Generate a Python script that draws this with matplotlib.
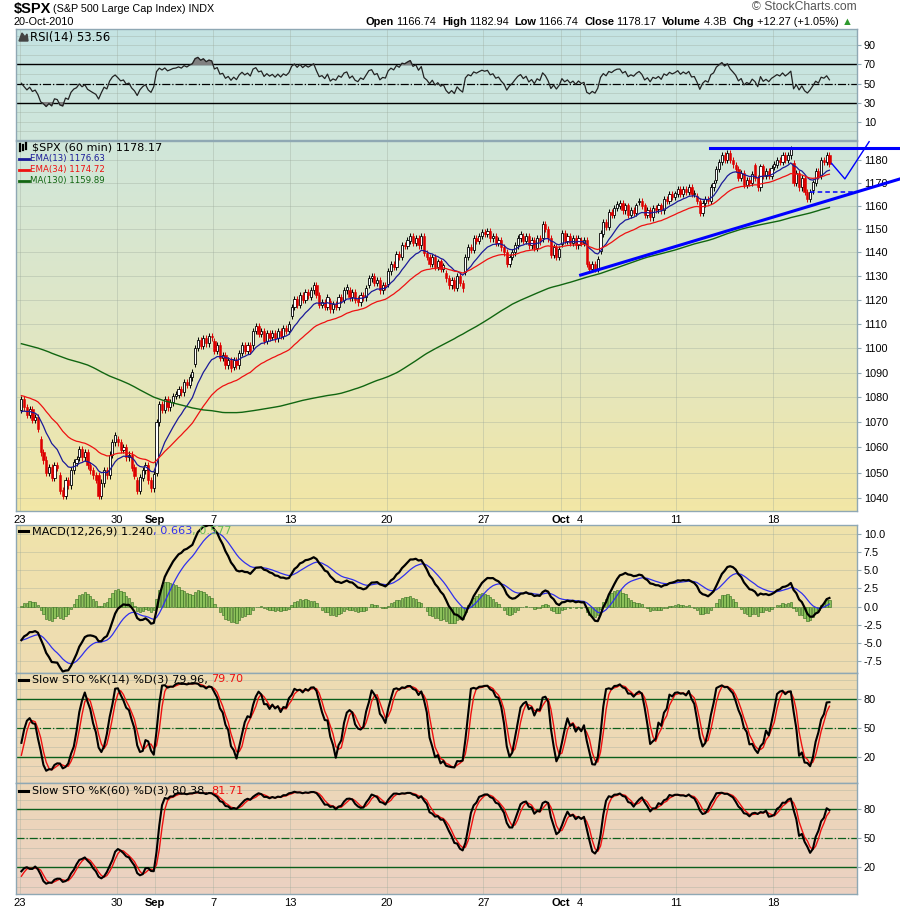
import numpy as np
import pandas as pd
import matplotlib.pyplot as plt

W, H = 900, 910

# hourly closes of the sessions before the visible window (Jul 26 - Aug 20), used to warm up the indicators
pre_closes = [
    1105, 1108, 1109, 1110, 1111, 1113, 1115,
    1119, 1117, 1113, 1111, 1112, 1114, 1113.8,
    1111, 1109, 1108, 1106, 1107, 1105, 1106,
    1113, 1110, 1104, 1097, 1094, 1098, 1101.5,
    1091, 1094, 1097, 1100, 1103, 1102, 1101.6,
    1115, 1119, 1121, 1123, 1124, 1126, 1125.9,
    1124, 1122, 1119, 1117, 1119, 1121, 1120.5,
    1122, 1124, 1125, 1126, 1127, 1128, 1127.2,
    1121, 1122, 1123, 1124, 1125, 1126, 1125.8,
    1113, 1112, 1116, 1117, 1118, 1120, 1121.6,
    1125, 1126, 1127, 1127, 1128, 1129, 1127.8,
    1118, 1116, 1117, 1120, 1125, 1120, 1121,
    1100, 1096, 1094, 1094, 1092, 1091, 1089.5,
    1079, 1080, 1082, 1083, 1084, 1086, 1083.6,
    1080, 1081, 1082, 1081, 1079, 1080, 1079.3,
    1072, 1074, 1076, 1077, 1078, 1079, 1079.4,
    1088, 1092, 1095, 1094, 1095, 1093, 1092.5,
    1092, 1090, 1094, 1096, 1095, 1098, 1094.2,
    1088, 1083, 1080, 1078, 1074, 1072, 1075.6,
    1070, 1068, 1066, 1065, 1068, 1070, 1071.7,
]

days = ['Aug 23', 'Aug 24', 'Aug 25', 'Aug 26', 'Aug 27', 'Aug 30', 'Aug 31',
        'Sep 1', 'Sep 2', 'Sep 3', 'Sep 7', 'Sep 8', 'Sep 9', 'Sep 10',
        'Sep 13', 'Sep 14', 'Sep 15', 'Sep 16', 'Sep 17', 'Sep 20', 'Sep 21',
        'Sep 22', 'Sep 23', 'Sep 24', 'Sep 27', 'Sep 28', 'Sep 29', 'Sep 30',
        'Oct 1', 'Oct 4', 'Oct 5', 'Oct 6', 'Oct 7', 'Oct 8', 'Oct 11',
        'Oct 12', 'Oct 13', 'Oct 14', 'Oct 15', 'Oct 18', 'Oct 19', 'Oct 20']

# open of the first hourly bar of each session
day_opens = [1075, 1063, 1049, 1056, 1049, 1063, 1047,
             1050, 1080.7, 1093.6, 1102.6, 1092.4, 1101.2, 1104.6,
             1113.4, 1121.2, 1119.4, 1123.9, 1126.4, 1126.6, 1142.8,
             1139.5, 1131.1, 1131.7, 1148.6, 1142.3, 1146.8, 1146,
             1143.5, 1145, 1140.7, 1159.8, 1161.6, 1158.4, 1165.3,
             1164.3, 1171.3, 1177.8, 1177.5, 1176.8, 1178.6, 1166.7]

# hourly closes, 7 bars per session
closes = [
    1079, 1076, 1073, 1075, 1071, 1072, 1067.4,
    1058, 1055, 1050, 1052, 1048, 1053, 1051.9,
    1043, 1041, 1047, 1045, 1051, 1054, 1055.3,
    1059, 1056, 1058, 1053, 1051, 1049, 1047.2,
    1041, 1046, 1051, 1049, 1057, 1062, 1064.6,
    1062, 1059, 1060, 1056, 1057, 1052, 1048.9,
    1043, 1048, 1051, 1053, 1047, 1044, 1049.3,
    1070, 1077, 1075, 1079, 1076, 1078, 1080.3,
    1081, 1083, 1082, 1086, 1085, 1088, 1090.1,
    1100, 1103, 1101, 1104, 1102, 1105, 1104.5,
    1099, 1101, 1096, 1097, 1093, 1095, 1091.8,
    1095, 1093, 1098, 1101, 1099, 1101, 1098.9,
    1107, 1109, 1106, 1107, 1103, 1106, 1104.2,
    1106, 1104, 1107, 1105, 1108, 1107, 1109.6,
    1117, 1120, 1118, 1122, 1120, 1123, 1121.9,
    1124, 1126, 1122, 1118, 1119, 1117, 1121.1,
    1116, 1118, 1117, 1121, 1120, 1124, 1125.1,
    1121, 1123, 1120, 1119, 1122, 1121, 1124.7,
    1129, 1130, 1127, 1128, 1124, 1126, 1125.6,
    1132, 1135, 1134, 1139, 1138, 1143, 1142.7,
    1145, 1147, 1144, 1146, 1143, 1147, 1139.8,
    1138, 1135, 1138, 1134, 1136, 1133, 1134.3,
    1129, 1126, 1128, 1125, 1130, 1127, 1124.8,
    1138, 1142, 1141, 1146, 1145, 1147, 1148.7,
    1148, 1149, 1146, 1147, 1144, 1145, 1142.2,
    1140, 1135, 1138, 1140, 1143, 1146, 1147.7,
    1145, 1147, 1143, 1145, 1142, 1146, 1144.7,
    1152, 1150, 1146, 1139, 1142, 1138, 1141.2,
    1148, 1145, 1147, 1144, 1146, 1143, 1146.2,
    1144, 1145, 1135, 1133, 1135, 1133, 1137,
    1148, 1153, 1151, 1157, 1156, 1159, 1160.8,
    1161, 1158, 1160, 1156, 1158, 1157, 1160,
    1162, 1160, 1156, 1158, 1155, 1159, 1158.1,
    1160, 1158, 1163, 1162, 1165, 1164, 1165.2,
    1167, 1165, 1167, 1166, 1168, 1165, 1165.3,
    1162, 1157, 1161, 1163, 1162, 1168, 1169.8,
    1176, 1179, 1182, 1180, 1183, 1180, 1178.1,
    1176, 1172, 1174, 1169, 1171, 1170, 1173.8,
    1172, 1168, 1177, 1173, 1175, 1173, 1176.2,
    1178, 1180, 1179, 1182, 1180, 1182, 1184.7,
    1170, 1174, 1168, 1172, 1166, 1163, 1165.9,
    1170, 1175, 1173, 1180, 1179, 1182, 1178.17,
]

tick_days = ['Aug 23', 'Aug 30', 'Sep 1', 'Sep 7', 'Sep 13', 'Sep 20', 'Sep 27',
             'Oct 1', 'Oct 4', 'Oct 11', 'Oct 18']
tick_labels = ['23', '30', 'Sep', '7', '13', '20', '27', 'Oct', '4', '11', '18']

# hand-drawn lines on the price panel: (bar index, price)
resistance_x, resistance_y = [249.7, 318.6], [1185.5, 1185.5]
support_x, support_y = [202.8, 318.6], [1130.4, 1171.7]
level_x, level_y = [285.9, 301.5], [1166.0, 1166.0]
projection_x, projection_y = [293.8, 298.6, 307.4], [1178.5, 1171.7, 1188.1]

BARS = 7
WICK = 1.4
ARIAL = 'Liberation Sans'

# ---------- series and indicators ----------
n_pre = len(pre_closes)
c_all = np.array(pre_closes + closes, float)
o_all = np.r_[c_all[0], c_all[:-1]]
for d, o in enumerate(day_opens):
    o_all[n_pre + d * BARS] = o
h_all = np.maximum(o_all, c_all) + WICK
l_all = np.minimum(o_all, c_all) - WICK
cs = pd.Series(c_all)

ema13 = cs.ewm(span=13, adjust=False).mean()
ema34 = cs.ewm(span=34, adjust=False).mean()
ma130 = cs.rolling(130, min_periods=1).mean()

delta = cs.diff().fillna(0)
avg_up = delta.clip(lower=0).ewm(alpha=1 / 14, adjust=False).mean()
avg_dn = (-delta).clip(lower=0).ewm(alpha=1 / 14, adjust=False).mean()
rsi = 100 - 100 / (1 + avg_up / avg_dn)

macd = cs.ewm(span=12, adjust=False).mean() - cs.ewm(span=26, adjust=False).mean()
signal = macd.ewm(span=9, adjust=False).mean()
hist = macd - signal


def slow_sto(n):
    hh = pd.Series(h_all).rolling(n, min_periods=1).max()
    ll = pd.Series(l_all).rolling(n, min_periods=1).min()
    fast = 100 * (cs - ll) / (hh - ll)
    k = fast.rolling(3, min_periods=1).mean()
    return k, k.rolling(3, min_periods=1).mean()


k14, d14 = slow_sto(14)
k60, d60 = slow_sto(60)

v = slice(n_pre, None)
x = np.arange(len(closes))
o, c, h, l = o_all[v], c_all[v], h_all[v], l_all[v]
tick_x = [days.index(dd) * BARS - 0.5 for dd in tick_days]

# ---------- figure ----------
fig = plt.figure(figsize=(W / 100, H / 100), dpi=100)
fig.patch.set_facecolor('white')

bg_stops = [(29, '#c4e3e3'), (140, '#d0e6da'), (320, '#dfe6c6'), (511, '#f2e7a6'),
            (525, '#f0e3ab'), (673, '#eedcb2'), (783, '#edd7b8'), (894, '#ebd1c2')]
bg_y = np.array([s[0] for s in bg_stops], float)
bg_rgb = np.array([[int(s[1][i:i + 2], 16) / 255 for i in (1, 3, 5)] for s in bg_stops])


def panel(top, bottom, ylim, log=False):
    ax = fig.add_axes([16 / W, 1 - bottom / H, (857 - 16) / W, (bottom - top) / H])
    ys = np.linspace(top, bottom, 80)
    grad = np.stack([np.interp(ys, bg_y, bg_rgb[:, i]) for i in range(3)], axis=1)
    ax.imshow(grad[:, None, :], extent=[0, 1, 0, 1], transform=ax.transAxes,
              aspect='auto', zorder=0)
    if log:
        ax.set_yscale('log')
    ax.set_xlim(-1.95, 303.0)
    ax.set_ylim(*ylim)
    for s in ax.spines.values():
        s.set_color('#8fa8b4')
        s.set_linewidth(1.0)
    ax.yaxis.tick_right()
    ax.tick_params(axis='y', which='major', length=3, width=0.8, color='#8fa8b4',
                   labelsize=7.8, pad=2)
    ax.tick_params(axis='y', which='minor', length=0)
    ax.tick_params(axis='x', length=0, labelbottom=False)
    ax.set_xticks(tick_x)
    ax.grid(True, which='both', color='#9aa89a', alpha=0.35, lw=0.7)
    ax.set_axisbelow(True)
    return ax


def arial_ticks(ax):
    for t in ax.get_yticklabels() + ax.get_xticklabels():
        t.set_fontfamily(ARIAL)


def bottom_labels(ax):
    ax.tick_params(axis='x', labelbottom=True, labelsize=8, pad=3)
    ax.set_xticklabels(tick_labels)
    for t in ax.get_xticklabels():
        t.set_fontfamily(ARIAL)
        if t.get_text() in ('Sep', 'Oct'):
            t.set_fontweight('bold')


# RSI
ax_rsi = panel(29, 140, (-9, 107))
ax_rsi.set_yticks([10, 30, 50, 70, 90])
ax_rsi.set_yticks(range(0, 101, 10), minor=True)
ax_rsi.axhline(70, color='black', lw=1.0, zorder=2)
ax_rsi.axhline(30, color='black', lw=1.0, zorder=2)
ax_rsi.axhline(50, color='black', lw=0.9, ls='-.', zorder=2)
r = rsi[v].values
ax_rsi.fill_between(x, r, 70, where=r > 70, color='#808080', interpolate=True, zorder=3)
ax_rsi.fill_between(x, r, 30, where=r < 30, color='#808080', interpolate=True, zorder=3)
ax_rsi.plot(x, r, color='#222222', lw=0.9, zorder=4)
arial_ticks(ax_rsi)

# price
ax_p = panel(141, 511, (1035.1, 1188.4), log=True)
pt = list(range(1040, 1181, 10))
ax_p.set_yticks(pt)
ax_p.set_yticklabels([str(p) for p in pt])
ax_p.yaxis.set_minor_locator(plt.NullLocator())
up = c >= o
ax_p.vlines(x, l, h, color=np.where(up, 'black', '#dd0000'), lw=0.7, zorder=3)
ax_p.bar(x[up], c[up] - o[up] + 0.15, bottom=o[up], width=0.8, color='white',
         edgecolor='black', lw=0.6, zorder=4)
ax_p.bar(x[~up], o[~up] - c[~up] + 0.15, bottom=c[~up], width=0.8, color='#dd0000',
         edgecolor='#dd0000', lw=0.4, zorder=4)
ax_p.plot(x, ema13[v], color='#1a1a99', lw=0.9, zorder=5)
ax_p.plot(x, ema34[v], color='#ee1111', lw=0.9, zorder=5)
ax_p.plot(x, ma130[v], color='#116611', lw=1.0, zorder=5)
ax_p.plot(resistance_x, resistance_y, color='#0000ff', lw=2.2, clip_on=False, zorder=6)
ax_p.plot(support_x, support_y, color='#0000ff', lw=2.2, clip_on=False, zorder=6)
ax_p.plot(level_x, level_y, color='#0000ff', lw=1.1, ls=(0, (3, 2)), clip_on=False, zorder=6)
ax_p.plot(projection_x, projection_y, color='#0000ff', lw=1.0, clip_on=False, zorder=6)
arial_ticks(ax_p)
bottom_labels(ax_p)

# MACD
ax_m = panel(525, 673, (-9.21, 11.29))
ax_m.set_yticks(np.arange(-7.5, 10.01, 2.5))
ax_m.set_yticklabels(['%.1f' % t for t in np.arange(-7.5, 10.01, 2.5)])
ax_m.bar(x, hist[v], width=0.85, color='#8cc05a', edgecolor='#2e6a1a', lw=0.4, zorder=2)
ax_m.plot(x, signal[v], color='#3030ee', lw=0.9, zorder=3)
ax_m.plot(x, macd[v], color='black', lw=1.6, zorder=4)
arial_ticks(ax_m)

# slow stochastics
for top, bot, k, d in [(673, 783, k14, d14), (783, 894, k60, d60)]:
    ax_s = panel(top, bot, (-7.6, 107.2))
    ax_s.set_yticks([20, 50, 80])
    ax_s.set_yticks(range(0, 101, 10), minor=True)
    ax_s.axhline(80, color='#0b5e1c', lw=1.0, zorder=2)
    ax_s.axhline(20, color='#0b5e1c', lw=1.0, zorder=2)
    ax_s.axhline(50, color='#0b5e1c', lw=0.9, ls='-.', zorder=2)
    ax_s.plot(x, d[v], color='#ee1111', lw=1.0, zorder=3)
    ax_s.plot(x, k[v], color='black', lw=1.5, zorder=4)
    arial_ticks(ax_s)
bottom_labels(ax_s)

# ---------- texts ----------
rend = fig.canvas.get_renderer()


def fx(px):
    return px / W


def fy(py):
    return 1 - py / H


def seq(px, py, parts, width=None, size=7.5, right=None, family='DejaVu Sans'):
    # lay out coloured pieces one after another; optionally scale them to a pixel width
    if width is not None:
        tot = 0
        for s, col, wt in parts:
            t = fig.text(0, 0, s, fontsize=10, fontweight=wt, family=family)
            tot += t.get_window_extent(renderer=rend).width
            t.remove()
        size = 10 * width / tot
    if right is not None:
        px = right - width
    for s, col, wt in parts:
        t = fig.text(fx(px), fy(py), s, color=col, fontweight=wt, fontsize=size,
                     va='center', family=family)
        px += t.get_window_extent(renderer=rend).width
    return px


end = seq(14, 9, [('$SPX', 'black', 'bold')], size=10.5, family=ARIAL)
seq(end + 2, 9.5, [('(S&P 500 Large Cap Index) INDX', 'black', 'normal')], width=161,
    family=ARIAL)
seq(14, 22, [('20-Oct-2010', 'black', 'normal')], width=61, family=ARIAL)
seq(0, 7, [('\u00a9 StockCharts.com', '#555555', 'normal')], width=105, right=857,
    family=ARIAL)
seq(0, 22, [('Open', 'black', 'bold'), (' 1166.74  ', 'black', 'normal'),
            ('High', 'black', 'bold'), (' 1182.94  ', 'black', 'normal'),
            ('Low', 'black', 'bold'), (' 1166.74  ', 'black', 'normal'),
            ('Close', 'black', 'bold'), (' 1178.17  ', 'black', 'normal'),
            ('Volume', 'black', 'bold'), (' 4.3B  ', 'black', 'normal'),
            ('Chg', 'black', 'bold'), (' +12.27 (+1.05%) ', 'black', 'normal'),
            ('\u25b2', '#2e9a2e', 'normal')], width=489, right=855, family=ARIAL)

# small legend icons
fig.patches.append(plt.Polygon([(fx(19), fy(41)), (fx(22), fy(33)), (fx(25), fy(37)),
                                (fx(27), fy(34)), (fx(28), fy(41))], closed=True,
                               color='#444444', transform=fig.transFigure))
for i, (lo, hi) in enumerate([(144, 151), (145, 150), (143, 149)]):
    fig.lines.append(plt.Line2D([fx(20 + 3 * i), fx(20 + 3 * i)], [fy(hi), fy(lo)],
                                color='black', lw=1.6, transform=fig.transFigure))

seq(30, 37, [('RSI(14) 53.56', 'black', 'normal')], width=80)
seq(32, 147, [('$SPX (60 min) 1178.17', 'black', 'normal')], width=130)
for py, label, col in [(158.5, 'EMA(13) 1176.63', '#1a1a99'),
                       (169.5, 'EMA(34) 1174.72', '#ee1111'),
                       (180.7, 'MA(130) 1159.89', '#116611')]:
    fig.lines.append(plt.Line2D([fx(19), fx(29)], [fy(py), fy(py)], color=col, lw=2,
                                transform=fig.transFigure))
    seq(29.5, py, [(label, col, 'normal')], width=75)

for py, parts, wd in [(531, [('MACD(12,26,9) 1.240', 'black', 'normal'),
                             (', 0.663', '#3030ee', 'normal'),
                             (', 0.577', '#66bb55', 'normal')], 200),
                      (679.5, [('Slow STO %K(14) %D(3) 79.96, ', 'black', 'normal'),
                               ('79.70', '#ee1111', 'normal')], 212),
                      (790.5, [('Slow STO %K(60) %D(3) 80.38, ', 'black', 'normal'),
                               ('81.71', '#ee1111', 'normal')], 212)]:
    fig.lines.append(plt.Line2D([fx(19), fx(28)], [fy(py), fy(py)], color='black', lw=2.2,
                                transform=fig.transFigure))
    seq(31.5, py, parts, width=wd)

fig.savefig('out.png', dpi=100)
